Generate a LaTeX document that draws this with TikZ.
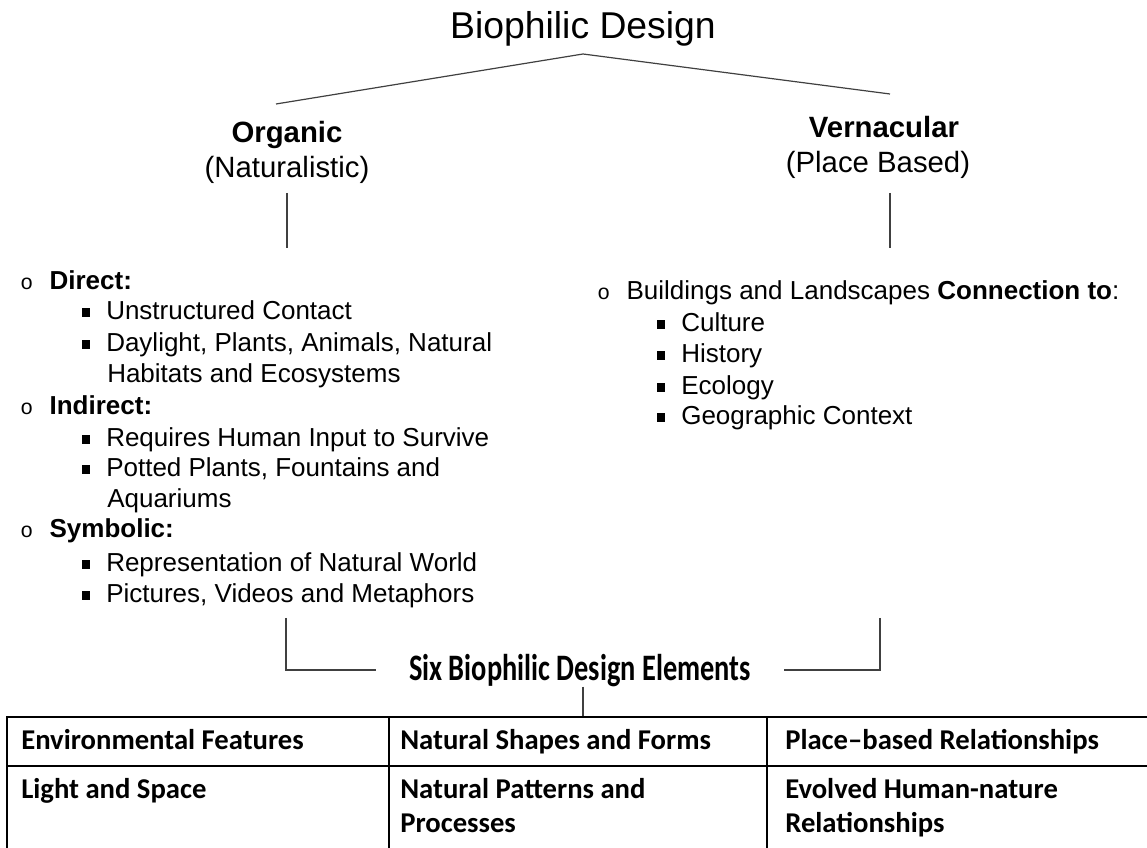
\documentclass[tikz,border=0pt]{standalone}
\usepackage{fontspec}
\setmainfont{Liberation Sans}
\newfontfamily\calib{Carlito}
\newfontfamily\calibnarrow[FakeStretch=0.76]{Carlito}
\newfontfamily\bulfont{Liberation Mono}

\newcommand{\lvlone}[1]{\makebox[22pt][l]{\fontsize{16}{16}\bulfont o}#1}
\newcommand{\lvltwo}[1]{\makebox[18pt][l]{\rule[2.2pt]{6pt}{6.5pt}}#1}

\tikzset{
    title/.style={anchor=base, inner sep=0pt, font=\fontsize{28}{30}\selectfont},
    branch/.style={anchor=base, inner sep=0pt, font=\fontsize{22}{26}\selectfont\bfseries},
    subbranch/.style={anchor=base, inner sep=0pt, font=\fontsize{22}{26}\selectfont},
    item/.style={anchor=base west, inner sep=0pt, font=\fontsize{19.5}{23}\selectfont},
    cell/.style={anchor=base west, inner sep=0pt, font=\fontsize{21.5}{25}\selectfont\calib\bfseries},
    link/.style={draw=black!75, line width=0.9pt},
    grid/.style={draw=black, line width=1.1pt}
}

\begin{document}
\begin{tikzpicture}[x=0.75pt, y=-0.75pt]
        \useasboundingbox (0,0) rectangle (1147,848);

        \node[title] (bio) at (583,39) {Biophilic Design};
        \node[branch] (org) at (287,143) {Organic};
        \node[subbranch] (nat) at (287,178) {(Naturalistic)};
        \node[branch] (ver) at (884,138) {Vernacular};
        \node[subbranch] (plc) at (878,173) {(Place Based)};

        \coordinate (apex) at (583,54);
        \coordinate (orgtip) at (276,104);
        \coordinate (vertip) at (890,94);
        \draw[link] (orgtip) -- (apex) -- (vertip);

        \coordinate (orgtop) at (287,193);
        \coordinate (orgbot) at (287,248);
        \coordinate (vertop) at (890,193);
        \coordinate (verbot) at (890,248);
        \draw[link] (orgtop) -- (orgbot);
        \draw[link] (vertop) -- (verbot);

        % organic list
        \node[item] (dir) at (20,290) {\lvlone{\textbf{Direct:}}};
        \node[item] (dirA) at (82,320) {\lvltwo{Unstructured Contact}};
        \node[item] (dirB) at (82,352) {\lvltwo{Daylight, Plants, Animals, Natural}};
        \node[item] (dirC) at (107,383) {Habitats and Ecosystems};
        \node[item] (ind) at (20,415) {\lvlone{\textbf{Indirect:}}};
        \node[item] (indA) at (82,447) {\lvltwo{Requires Human Input to Survive}};
        \node[item] (indB) at (82,477) {\lvltwo{Potted Plants, Fountains and}};
        \node[item] (indC) at (107,508) {Aquariums};
        \node[item] (sym) at (20,538) {\lvlone{\textbf{Symbolic:}}};
        \node[item] (symA) at (82,572) {\lvltwo{Representation of Natural World}};
        \node[item] (symB) at (82,603) {\lvltwo{Pictures, Videos and Metaphors}};

        % vernacular list
        \node[item] (bld) at (597,300) {\lvlone{Buildings and Landscapes \textbf{Connection to}:}};
        \node[item] (bldA) at (657,332) {\lvltwo{Culture}};
        \node[item] (bldB) at (657,363) {\lvltwo{History}};
        \node[item] (bldC) at (657,395) {\lvltwo{Ecology}};
        \node[item] (bldD) at (657,425) {\lvltwo{Geographic Context}};

        % six elements
        \node[anchor=base, inner ysep=0pt, inner xsep=25pt, font=\fontsize{28}{30}\selectfont\calibnarrow\bfseries] (elem) at (580,680) {Six Biophilic Design Elements};
        \coordinate (orgend) at (286,618);
        \coordinate (verend) at (880,618);
        \coordinate (tabtop) at (583,717);
        \draw[link] (orgend) |- (elem.west);
        \draw[link] (verend) |- (elem.east);
        \draw[link] (tabtop |- elem.south) -- (tabtop);

        % table
        \draw[grid] (1147,717) -- (7,717) -- (7,848);
        \draw[grid] (7,766) -- (1147,766);
        \draw[grid] (389,717) -- (389,848);
        \draw[grid] (767,717) -- (767,848);

        \node[cell] (envf) at (21,749) {Environmental Features};
        \node[cell] (shap) at (400,749) {Natural Shapes and Forms};
        \node[cell] (plrel) at (785,749) {Place–based Relationships};
        \node[cell] (lisp) at (21,798) {Light and Space};
        \node[cell] (patt) at (400,798) {Natural Patterns and};
        \node[cell] (proc) at (400,832) {Processes};
        \node[cell] (evol) at (785,798) {Evolved Human-nature};
        \node[cell] (erel) at (785,832) {Relationships};
\end{tikzpicture}
\end{document}
